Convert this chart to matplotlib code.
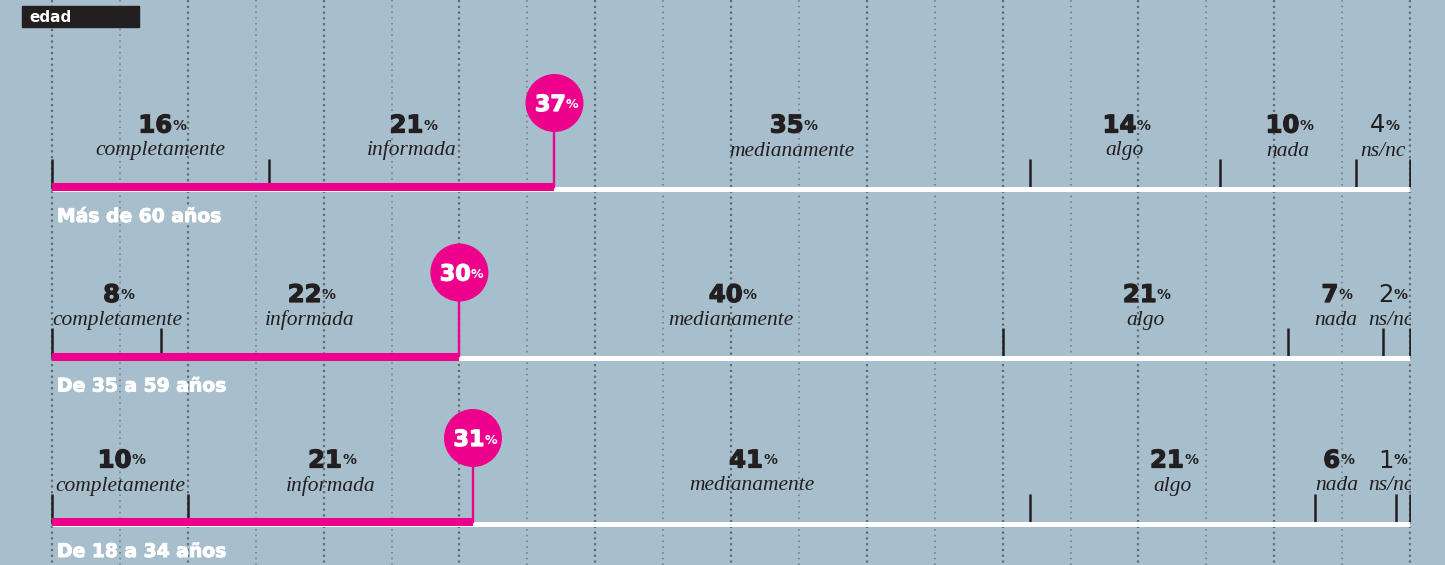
import matplotlib
matplotlib.use("Agg")
import matplotlib.pyplot as plt
from matplotlib.patches import Rectangle
import matplotlib.patheffects as pe

# datos
categorias = ["completamente", "informada", "medianamente", "algo", "nada", "ns/nc"]
grupos = ["Más de 60 años", "De 35 a 59 años", "De 18 a 34 años"]
valores = [
    [16, 21, 35, 14, 10, 4],
    [8, 22, 40, 21, 7, 2],
    [10, 21, 41, 21, 6, 1],
]

BG = "#a7bfcc"
PINK = "#ec008c"
INK = "#231f20"

W, H = 1445, 565
X0, X1 = 52, 1410           # pixel position of 0% and 100%
pxu = (X1 - X0) / 100.0      # pixels per percent
row_y = [188.5, 358, 523.5]  # pixel y of each bar

fig = plt.figure(figsize=(W / 100, H / 100), dpi=100, facecolor=BG)
ax = fig.add_axes([0, 0, 1411 / W, 1])
ax.set_facecolor(BG)
ax.set_xlim(-X0 / pxu, (1411 - X0) / pxu)
ax.set_ylim(H, 0)
ax.axis("off")

# dotted grid every 5%
for i, gx in enumerate(range(0, 101, 5)):
    if i % 2 == 0:
        ax.plot([gx, gx], [0, H], color="#626c76", lw=1.6,
                linestyle=(0, (1, 1.6)), zorder=1)
    else:
        ax.plot([gx, gx], [0, H], color="#717d87", lw=1.15,
                linestyle=(0, (1, 2.6)), zorder=1)

lab_font = dict(family="Liberation Serif", style="italic")


def pct_text(x, y, num, size, color, heavy=True, z=6):
    fx = [pe.withStroke(linewidth=0.9, foreground=color)] if heavy else []
    t = ax.text(x, y, str(num), ha="center", va="baseline", fontsize=size,
                color=color, family="DejaVu Sans",
                fontweight="bold" if heavy else "normal", zorder=z, path_effects=fx)
    ax.annotate("%", xy=(1, 0.5), xycoords=t, xytext=(0.2, 0),
                textcoords="offset points", ha="left", va="center",
                fontsize=size * 0.57, color=color, family="DejaVu Sans",
                fontweight="bold", zorder=z)
    return t


renderer = fig.canvas.get_renderer()

for r, (vals, grupo, y) in enumerate(zip(valores, grupos, row_y)):
    bordes = [0]
    for v in vals:
        bordes.append(bordes[-1] + v)
    informada = bordes[2]

    # base bar and ticks
    ax.plot([0, 100], [y, y], color="white", lw=3.6, solid_capstyle="butt", zorder=3)
    for k, b in enumerate(bordes):
        if k == 2:
            continue
        ax.plot([b, b], [y - 30, y], color=INK, lw=1.8, solid_capstyle="butt", zorder=2)
    ax.plot([0, informada], [y - 1.5, y - 1.5], color=PINK, lw=5.8,
            solid_capstyle="butt", zorder=4)

    # lollipop with total
    cy = y - 85.5
    ax.plot([informada, informada], [cy, y - 2], color=PINK, lw=1.7, zorder=4)
    ax.scatter([informada], [cy], s=(58 * 0.72) ** 2, color=PINK, edgecolors="none", zorder=5)
    pct_text(informada - 0.3, cy + 8, informada, 16, "white")

    # labels
    labs = []
    for k, cat in enumerate(categorias):
        mid = (bordes[k] + bordes[k + 1]) / 2
        t = ax.text(mid, y - 33, cat, ha="center", va="baseline", fontsize=15.5,
                    color=INK, zorder=6, clip_on=True, **lab_font)
        labs.append(t)
    widths = [t.get_window_extent(renderer).width / pxu for t in labs]
    centers = [t.get_position()[0] for t in labs]
    centers[0] = max(centers[0], widths[0] / 2)
    centers[-1] = min(centers[-1], 100 + 4 / pxu - widths[-1] / 2)
    for k in range(len(labs) - 2, -1, -1):
        lim = centers[k + 1] - widths[k + 1] / 2 - 10 / pxu - widths[k] / 2
        centers[k] = min(centers[k], lim)
    for k, t in enumerate(labs):
        t.set_x(centers[k])
        last = k == len(labs) - 1
        pct_text(centers[k] - 0.4, y - 56, vals[k], 17.5, INK, heavy=not last)

    ax.text(5 / pxu, y + 33.5, grupo, ha="left", va="baseline", fontsize=13.5,
            color="white", zorder=6, family="DejaVu Sans", fontweight="bold",
            path_effects=[pe.withStroke(linewidth=0.7, foreground="white")])

# etiqueta "edad"
fig.add_artist(Rectangle((22 / W, 1 - 27 / H), 117 / W, 21 / H,
                         transform=fig.transFigure, color=INK, zorder=10))
fig.text(29 / W, 1 - 22 / H, "edad", color="white", fontsize=11,
         family="DejaVu Sans", fontweight="bold", zorder=11)

fig.savefig("out.png", dpi=100, facecolor=BG)
